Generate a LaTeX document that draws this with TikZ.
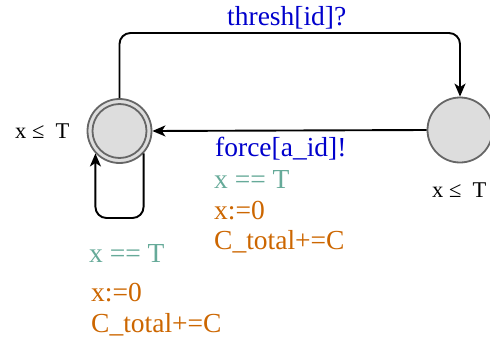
\documentclass[tikz,border=0pt]{standalone}
\usepackage{fontspec}
\setmainfont{Liberation Serif}
\usetikzlibrary{arrows.meta}
\definecolor{chblue}{RGB}{0,0,204}
\definecolor{guardc}{RGB}{102,170,153}
\definecolor{assignc}{RGB}{204,102,0}
\definecolor{statefill}{RGB}{221,221,221}
\definecolor{stateline}{RGB}{102,102,102}
\tikzset{
  statenode/.style={circle, draw=stateline, fill=statefill, line width=1.8pt, inner sep=0pt, minimum size=#1},
  edge/.style={draw=black, line width=1.9pt, rounded corners=11pt},
  tip/.style={-{Stealth[length=13pt,width=11pt,inset=3.5pt]}},
  lbl/.style={anchor=base west, inner sep=0pt, font=\fontsize{27.5}{31}\selectfont},
  inv/.style={anchor=base west, inner sep=0pt, font=\fontsize{22.5}{26}\selectfont},
}
\begin{document}
\begin{tikzpicture}[x=1pt,y=-1pt]
\useasboundingbox (0,0) rectangle (490,340);
\node[statenode=64pt] (L) at (119.5,131) {};
\node[statenode=54pt] (Li) at (119.5,131) {};
\node[statenode=65pt] (R) at (460,130) {};
\coordinate (top) at (0,33);
\coordinate (bot) at (0,218);
\draw[edge,tip] (L.north) |- (R.north |- top) -- (R.north);
\draw[edge,tip] (R.west) -- (L.east);
\draw[edge,tip] (L.-43) |- (L.223 |- bot) -- (L.223);
\node[lbl, text=chblue] (t1) at (227,25) {thresh[id]?};
\node[lbl, text=chblue] (t2) at (215,156) {force[a\_id]!};
\node[lbl, text=guardc] (t3) at (214,188) {x == T};
\node[lbl, text=assignc] (t4) at (214,219) {x:=0};
\node[lbl, text=assignc] (t5) at (214,249) {C\_total+=C};
\node[lbl, text=guardc] (t6) at (89,262) {x == T};
\node[lbl, text=assignc] (t7) at (91,301) {x:=0};
\node[lbl, text=assignc] (t8) at (91,332) {C\_total+=C};
\node[inv] (i1) at (15,138) {x ≤\ \ T};
\node[inv] (i2) at (432,197) {x ≤\ \ T};
\end{tikzpicture}
\end{document}
